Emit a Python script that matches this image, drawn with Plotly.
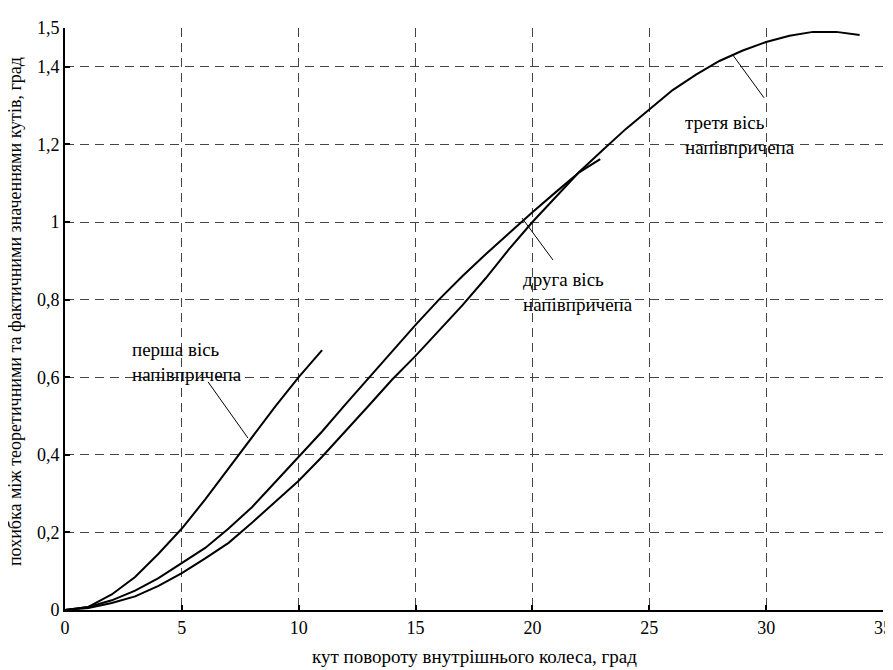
import plotly.graph_objects as go

# ---- data ----
x1 = [0, 1, 2, 3, 4, 5, 6, 7, 8, 9, 10, 11]
y1 = [0, 0.008, 0.04, 0.085, 0.145, 0.21, 0.285, 0.365, 0.445, 0.525, 0.6, 0.67]

x2 = [0, 1, 2, 3, 4, 5, 6, 7, 8, 9, 10, 11, 12, 13, 14, 15, 16, 17, 18, 19, 20, 21, 22, 22.9]
y2 = [0, 0.008, 0.025, 0.05, 0.082, 0.12, 0.16, 0.21, 0.265, 0.33, 0.395, 0.46, 0.53, 0.598,
      0.667, 0.735, 0.8, 0.86, 0.917, 0.972, 1.025, 1.077, 1.128, 1.162]

x3 = list(range(0, 35))
y3 = [0, 0.005, 0.018, 0.035, 0.062, 0.095, 0.133, 0.173, 0.225, 0.278, 0.333, 0.395, 0.46,
      0.527, 0.594, 0.655, 0.72, 0.785, 0.855, 0.93, 1.0, 1.065, 1.129, 1.185, 1.24, 1.29,
      1.34, 1.38, 1.415, 1.442, 1.464, 1.48, 1.49, 1.49, 1.482]

x_ticks = [0, 5, 10, 15, 20, 25, 30, 35]
y_ticks = [0, 0.2, 0.4, 0.6, 0.8, 1.0, 1.2, 1.4, 1.5]
y_ticktext = ["0", "0,2", "0,4", "0,6", "0,8", "1", "1,2", "1,4", "1,5"]

labels = ["перша вісь<br>напівпричепа", "друга вісь<br>напівпричепа", "третя вісь<br>напівпричепа"]
label_pos = [(2.8, 0.64), (19.5, 0.82), (26.45, 1.225)]
leaders = [((6.12, 0.588), (7.83, 0.443)),
           ((19.56, 1.01), (20.88, 0.902)),
           ((28.58, 1.430), (29.91, 1.32))]

x_title = "кут повороту внутрішнього колеса, град"
y_title = "похибка між теоретичними та фактичними значеннями кутів, град"

FONT = '"Liberation Serif", "Times New Roman", serif'

# page body has an 8px default margin, so the figure is drawn 8px smaller
W, H = 885, 662
L, R, T, B = 57, 10, 20, 60
PW, PH = W - L - R, H - T - B

fig = go.Figure()
for xs, ys in [(x1, y1), (x2, y2), (x3, y3)]:
    fig.add_trace(go.Scatter(x=xs, y=ys, mode="lines",
                             line=dict(color="black", width=2), showlegend=False,
                             hoverinfo="skip"))

for (lx, ly), txt in zip(label_pos, labels):
    fig.add_annotation(x=lx, y=ly, xref="x", yref="y", text=txt, showarrow=False,
                       xanchor="left", yanchor="middle", align="left",
                       font=dict(family=FONT, size=19, color="black"))

for (a, b) in leaders:
    fig.add_shape(type="line", x0=a[0], y0=a[1], x1=b[0], y1=b[1], xref="x", yref="y",
                  line=dict(color="black", width=1))

# axis titles as annotations for exact placement
fig.add_annotation(x=0.5, y=-46 / PH, xref="paper", yref="paper", text=x_title,
                   showarrow=False, xanchor="center", yanchor="middle",
                   font=dict(family=FONT, size=19, color="black"))
fig.add_annotation(x=-50 / PW, y=0.512, xref="paper", yref="paper", text=y_title,
                   showarrow=False, xanchor="center", yanchor="middle", textangle=-90,
                   font=dict(family=FONT, size=18, color="black"))

fig.update_layout(
    width=W, height=H,
    margin=dict(l=L, r=R, t=T, b=B, autoexpand=False),
    paper_bgcolor="white", plot_bgcolor="white",
    font=dict(family=FONT, size=18, color="black"),
    showlegend=False,
)
fig.update_xaxes(range=[0, 35], tickvals=x_ticks, ticktext=[str(v) for v in x_ticks],
                 showline=True, linecolor="black", linewidth=2,
                 ticks="inside", ticklen=5, tickwidth=2, tickcolor="black",
                 showgrid=True, gridcolor="#444", gridwidth=1, griddash="9px,6px",
                 zeroline=False, automargin=False,
                 tickfont=dict(family=FONT, size=18))
fig.update_yaxes(range=[0, 1.5], tickvals=y_ticks, ticktext=y_ticktext,
                 showline=True, linecolor="black", linewidth=2,
                 ticks="inside", ticklen=5, tickwidth=2, tickcolor="black",
                 showgrid=True, gridcolor="#444", gridwidth=1, griddash="9px,6px",
                 zeroline=False, automargin=False,
                 tickfont=dict(family=FONT, size=18))

fig.write_html("out.html")
